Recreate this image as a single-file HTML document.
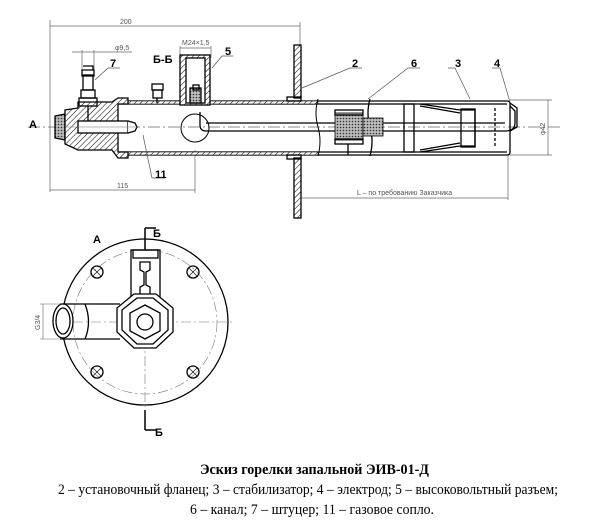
<!DOCTYPE html>
<html><head><meta charset="utf-8"><style>
html,body{margin:0;padding:0;background:#fff;width:600px;height:523px;overflow:hidden}
svg{display:block}
.t{font-family:"Liberation Sans",sans-serif;font-weight:bold;font-size:11px;fill:#000}
.d{font-family:"Liberation Sans",sans-serif;font-size:7px;fill:#555}
.c{font-family:"Liberation Serif",serif;font-size:15px;fill:#000}
</style></head><body>
<svg width="600" height="523" viewBox="0 0 600 523" xmlns="http://www.w3.org/2000/svg">
<defs>
<pattern id="h" width="4" height="4" patternUnits="userSpaceOnUse" patternTransform="rotate(45)">
<rect width="4" height="4" fill="#fff"/><line x1="0" y1="0" x2="0" y2="4" stroke="#000" stroke-width="1"/></pattern>
<pattern id="x" width="3" height="3" patternUnits="userSpaceOnUse"><rect width="3" height="3" fill="#bbb"/><circle cx="1.5" cy="1.5" r="0.8" fill="#333"/></pattern>
</defs>
<g fill="none" stroke="#000" stroke-width="1.3">
<g stroke="#666" stroke-width="0.7">
<line x1="50" y1="20" x2="50" y2="192"/><line x1="50" y1="26" x2="300" y2="26"/><line x1="300" y1="22" x2="300" y2="45"/>
<line x1="50" y1="190" x2="195" y2="190"/><line x1="195" y1="150" x2="195" y2="193"/>
<line x1="302" y1="198" x2="508" y2="198"/><line x1="508" y1="155" x2="508" y2="200"/>
<line x1="510" y1="100" x2="552" y2="100"/><line x1="510" y1="155" x2="552" y2="155"/><line x1="548" y1="100" x2="548" y2="155"/>
<line x1="72" y1="52" x2="132" y2="52"/><line x1="82" y1="50" x2="82" y2="70"/><line x1="94" y1="50" x2="94" y2="70"/>
<line x1="180" y1="48" x2="211" y2="48"/><line x1="180" y1="46" x2="180" y2="58"/><line x1="211" y1="46" x2="211" y2="58"/>
<line x1="28" y1="127" x2="560" y2="127" stroke-dasharray="12 3 2 3"/>
</g>
<line x1="118" y1="101" x2="507" y2="101"/><line x1="118" y1="104" x2="507" y2="104"/>
<line x1="118" y1="152" x2="507" y2="152"/><line x1="118" y1="155" x2="507" y2="155"/>
<rect x="118" y="101" width="200" height="3" fill="url(#h)" stroke-width="0.6"/>
<rect x="118" y="152" width="200" height="3" fill="url(#h)" stroke-width="0.6"/>
<path d="M507 101 Q510 101 510 104 L510 152 Q510 155 507 155"/>
<rect x="294" y="45" width="7" height="53" fill="url(#h)"/><rect x="294" y="158" width="7" height="60" fill="url(#h)"/>
<rect x="287" y="97" width="14" height="4"/><rect x="287" y="155" width="14" height="4"/>
<path d="M318 99 q-4 14 0 28 q4 14 0 29" stroke="#000" stroke-width="1"/>
<path d="M370 99 q-4 14 0 28 q4 14 0 29"/>
<path d="M200 112 L200 125 Q200 131 206 131 L505 131 Q515 131 515 123 L515 111 L510 106"/>
<path d="M206 123 L505 123"/>
<rect x="335" y="113" width="28" height="27" fill="url(#x)" stroke-width="0.8"/>
<rect x="335" y="110" width="28" height="5"/><rect x="335" y="139" width="28" height="5"/>
<line x1="348" y1="144" x2="348" y2="155"/>
<rect x="363" y="118" width="20" height="18" fill="url(#x)" stroke-width="0.8"/>
<rect x="404" y="104" width="10" height="48"/>
<path d="M420 104 L460 110 L475 110 L475 146 L460 146 L420 152"/>
<path d="M420 106 L460 113 M420 150 L460 143"/>
<rect x="461" y="109" width="14" height="38"/>
<line x1="495" y1="108" x2="495" y2="148" stroke-dasharray="3 2"/>
<path d="M510 103 L517 108 L517 127 L510 131"/>
<path d="M55 116 L65 114 L65 140 L55 138 Z" fill="url(#x)"/>
<path d="M65 110 L78 108 L78 102 L112 102 L118 98 L128 98 L128 104 L118 104 L118 152 L128 152 L128 158 L118 158 L112 150 L78 150 L65 144 Z" fill="url(#h)"/>
<rect x="78" y="121" width="50" height="12" fill="#fff"/>
<path d="M128 121 L135 123 L137 127 L135 131 L128 133" fill="#fff"/>
<line x1="65" y1="127" x2="137" y2="127" stroke="#777" stroke-width="0.6"/>
<rect x="79" y="98" width="18" height="8"/><rect x="81" y="90" width="14" height="8"/>
<rect x="83" y="75" width="10" height="15"/><path d="M82 70 L94 70 L94 76 L82 76 Z M83 66 L93 66 L93 70 L83 70"/>
<line x1="88" y1="106" x2="88" y2="121"/>
<rect x="180" y="55" width="30" height="50" fill="url(#h)"/>
<rect x="186" y="58" width="19" height="45" fill="#fff"/>
<rect x="190" y="88" width="11" height="15" fill="url(#x)"/>
<rect x="193" y="85" width="6" height="5"/>
<rect x="152" y="84" width="11" height="6"/><rect x="153" y="90" width="9" height="8"/><line x1="157" y1="98" x2="157" y2="103"/>
<circle cx="195" cy="128" r="14" stroke-width="1"/>
<g stroke="#555" stroke-width="0.7">
<path d="M95 80 L108 68 L120 68"/><path d="M212 68 L222 56 L233 56"/>
<path d="M143 135 L152 178 L165 178"/><path d="M302 88 L350 68 L362 68"/>
<path d="M368 99 L408 68 L420 68"/><path d="M470 99 L455 68 L448 68"/><path d="M510 102 L500 68 L492 68"/>
</g>
<circle cx="145" cy="322" r="83"/>
<circle cx="145" cy="322" r="72" stroke="#777" stroke-width="0.6" stroke-dasharray="10 3 2 3"/>
<g stroke="#777" stroke-width="0.6" stroke-dasharray="10 3 2 3"><line x1="55" y1="322" x2="235" y2="322"/><line x1="145" y1="230" x2="145" y2="415"/></g>
<g><circle cx="97" cy="272" r="6"/><circle cx="193" cy="272" r="6"/><circle cx="97" cy="372" r="6"/><circle cx="193" cy="372" r="6"/></g>
<g stroke-width="0.6"><path d="M93 268l8 8M101 268l-8 8M189 268l8 8M197 268l-8 8M93 368l8 8M101 368l-8 8M189 368l8 8M197 368l-8 8"/></g>
<rect x="131" y="250" width="29" height="50" fill="#fff"/><rect x="133" y="250" width="25" height="8"/>
<path d="M140 262 L150 262 L150 270 L146 272 L146 285 L150 287 L150 298 L140 298 L140 287 L144 285 L144 272 L140 270 Z"/>
<path d="M60 304 L120 304 M60 339 L120 339 M85 304 Q92 322 85 339"/>
<ellipse cx="63" cy="321" rx="10" ry="17" fill="#fff"/><ellipse cx="63" cy="321" rx="7" ry="13"/>
<polygon points="134,294 156,294 173,308 173,332 156,348 134,348 117,332 117,308" fill="#fff"/>
<polygon points="137,298 153,298 168,310 168,330 153,344 137,344 122,330 122,310"/>
<polygon points="145,305 160,313 160,331 145,339 130,331 130,313"/>
<circle cx="145" cy="322" r="8"/>
<path d="M145 228 V250 M145 228 H156 M145 410 V430 M145 430 H156" stroke-width="1.5"/>
<g stroke="#666" stroke-width="0.6"><line x1="40" y1="304" x2="62" y2="304"/><line x1="40" y1="339" x2="62" y2="339"/><line x1="43" y1="304" x2="43" y2="339"/></g>
</g>
<text class="t" x="29" y="128">A</text>
<text class="t" x="110" y="67">7</text>
<text class="t" x="153" y="63">Б-Б</text>
<text class="t" x="225" y="55">5</text>
<text class="t" x="155" y="178">11</text>
<text class="t" x="352" y="67">2</text>
<text class="t" x="411" y="67">6</text>
<text class="t" x="455" y="67">3</text>
<text class="t" x="494" y="67">4</text>
<text class="t" x="93" y="243">A</text>
<text class="t" x="153" y="237">Б</text>
<text class="t" x="155" y="436">Б</text>
<text class="d" x="120" y="24">200</text>
<text class="d" x="115" y="50">φ9,5</text>
<text class="d" x="182" y="45">M24×1,5</text>
<text class="d" x="117" y="188">115</text>
<text class="d" x="357" y="195">L – по требованию Заказчика</text>
<text class="d" transform="translate(545,135) rotate(-90)">φ42</text>
<text class="d" transform="translate(40,330) rotate(-90)">G3/4</text>
<text class="c" x="200" y="474" font-weight="bold" textLength="229" lengthAdjust="spacingAndGlyphs">Эскиз горелки запальной ЭИВ-01-Д</text>
<text class="c" x="58" y="494" textLength="500" lengthAdjust="spacingAndGlyphs">2 – установочный фланец; 3 – стабилизатор; 4 – электрод; 5 – высоковольтный разъем;</text>
<text class="c" x="190" y="514" textLength="244" lengthAdjust="spacingAndGlyphs">6 – канал; 7 – штуцер; 11 – газовое сопло.</text>
</svg>
</body></html>
